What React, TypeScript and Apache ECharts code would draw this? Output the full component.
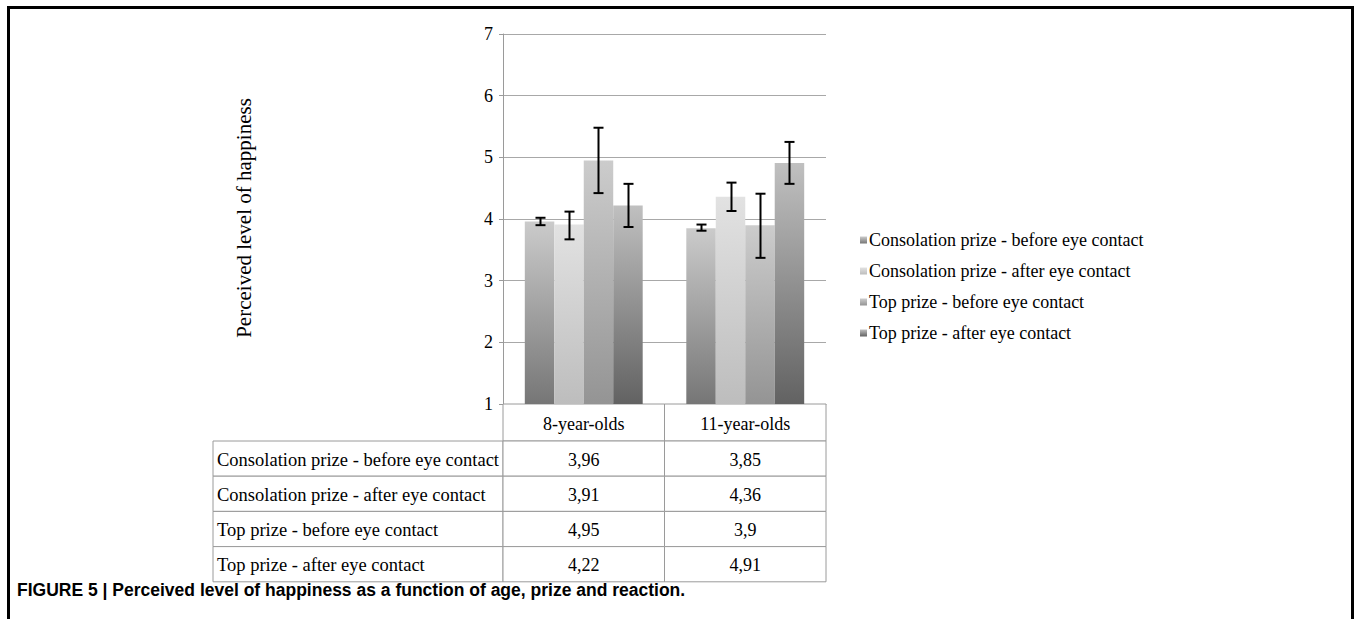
import React, { useEffect, useRef } from "react";
import * as echarts from "echarts";

const categories = ["8-year-olds", "11-year-olds"];
const seriesNames = [
  "Consolation prize - before eye contact",
  "Consolation prize - after eye contact",
  "Top prize - before eye contact",
  "Top prize - after eye contact",
];
const consolationBefore = [3.96, 3.85];
const consolationAfter = [3.91, 4.36];
const topBefore = [4.95, 3.9];
const topAfter = [4.22, 4.91];
const errLow = [
  [3.9, 3.81],
  [3.67, 4.13],
  [4.42, 3.37],
  [3.87, 4.57],
];
const errHigh = [
  [4.02, 3.91],
  [4.12, 4.59],
  [5.48, 4.41],
  [4.57, 5.25],
];
const yTicks = [1, 2, 3, 4, 5, 6, 7];

const values = [consolationBefore, consolationAfter, topBefore, topAfter];
const gradients = [
  ["#cbcbcb", "#767676"],
  ["#e2e2e2", "#bdbdbd"],
  ["#cccccc", "#949494"],
  ["#c0c0c0", "#626262"],
];

const SERIF = "Liberation Serif";
const GRID_L = 503;
const GRID_R = 826;
const GRID_T = 34;
const GRID_B = 404;
const TABLE_L = 213;
const HEADER_B = 441;
const ROW_H = 35.2;
const CAT_GAP = 0.27;

export default function App() {
  const ref = useRef<HTMLDivElement>(null);
  useEffect(() => {
    if (!ref.current) return;
    const chart = echarts.init(ref.current, null, { renderer: "svg" });

    const grad = (c: string[]) =>
      new echarts.graphic.LinearGradient(0, 0, 0, 1, [
        { offset: 0, color: c[0] },
        { offset: 1, color: c[1] },
      ]);

    const barSeries = values.map((v, i) => ({
      name: seriesNames[i],
      type: "bar",
      data: v,
      barGap: "0%",
      barCategoryGap: CAT_GAP * 100 + "%",
      itemStyle: { color: grad(gradients[i]) },
    }));

    const errData: number[][] = [];
    for (let s = 0; s < 4; s++) {
      for (let c = 0; c < categories.length; c++) {
        errData.push([c, errLow[s][c], errHigh[s][c], s]);
      }
    }

    const errSeries = {
      type: "custom",
      name: "err",
      data: errData,
      z: 10,
      renderItem: (params: any, api: any) => {
        const c = api.value(0);
        const lo = api.value(1);
        const hi = api.value(2);
        const s = api.value(3);
        const band = api.size([1, 0])[0];
        const groupW = band * (1 - CAT_GAP);
        const bw = groupW / 4;
        const pLo = api.coord([c, lo]);
        const pHi = api.coord([c, hi]);
        const x = Math.round(pLo[0] - groupW / 2 + bw * (s + 0.5)) + 0.5;
        const cap = 5;
        const st = { stroke: "#000", lineWidth: 2 };
        return {
          type: "group",
          children: [
            { type: "line", shape: { x1: x, y1: pLo[1], x2: x, y2: pHi[1] }, style: st },
            { type: "line", shape: { x1: x - cap, y1: pLo[1], x2: x + cap, y2: pLo[1] }, style: st },
            { type: "line", shape: { x1: x - cap, y1: pHi[1], x2: x + cap, y2: pHi[1] }, style: st },
          ],
        };
      },
    };

    const txt = (size: number) => ({ fontFamily: SERIF, fontSize: size, fill: "#000" });

    const colW = (GRID_R - GRID_L) / categories.length;
    const border = { stroke: "#9a9a9a", lineWidth: 1, fill: "#fff" };
    const g: any[] = [];
    g.push({
      type: "polyline",
      shape: { points: [[8.5, 619], [8.5, 7.5], [1352.5, 7.5], [1352.5, 619]] },
      style: { stroke: "#000", lineWidth: 3, fill: "none" },
    });
    categories.forEach((cat, ci) => {
      const x = GRID_L + ci * colW;
      g.push({ type: "rect", shape: { x, y: GRID_B, width: colW, height: HEADER_B - GRID_B }, style: border, z: 1 });
      g.push({
        type: "text",
        x: x + colW / 2,
        y: (GRID_B + HEADER_B) / 2 + 1,
        style: { text: cat, ...txt(18), align: "center", verticalAlign: "middle" },
        z: 2,
      });
    });
    seriesNames.forEach((nm, si) => {
      const y = HEADER_B + si * ROW_H;
      g.push({ type: "rect", shape: { x: TABLE_L, y, width: GRID_L - TABLE_L, height: ROW_H }, style: border, z: 1 });
      g.push({
        type: "text",
        x: TABLE_L + 4,
        y: y + ROW_H / 2 + 1,
        style: { text: nm, ...txt(18.5), align: "left", verticalAlign: "middle" },
        z: 2,
      });
      categories.forEach((_, ci) => {
        const x = GRID_L + ci * colW;
        g.push({ type: "rect", shape: { x, y, width: colW, height: ROW_H }, style: border, z: 1 });
        g.push({
          type: "text",
          x: x + colW / 2,
          y: y + ROW_H / 2 + 1,
          style: {
            text: String(values[si][ci]).replace(".", ","),
            ...txt(18),
            align: "center",
            verticalAlign: "middle",
          },
          z: 2,
        });
      });
    });
    g.push({
      type: "text",
      x: 244,
      y: 218,
      rotation: Math.PI / 2,
      style: {
        text: "Perceived level of happiness",
        ...txt(21),
        align: "center",
        verticalAlign: "middle",
      },
    });
    g.push({
      type: "text",
      x: 17,
      y: 590,
      style: {
        text: "FIGURE 5 | Perceived level of happiness as a function of age, prize and reaction.",
        fontFamily: "Liberation Sans",
        fontWeight: "bold",
        fontSize: 17.5,
        fill: "#000",
        align: "left",
        verticalAlign: "middle",
      },
    });

    chart.setOption({
      animation: false,
      backgroundColor: "#fff",
      grid: { left: GRID_L, right: 1357 - GRID_R, top: GRID_T, bottom: 619 - GRID_B, containLabel: false },
      legend: {
        orient: "vertical",
        left: 855,
        top: 226,
        icon: "rect",
        itemWidth: 7,
        itemHeight: 7,
        itemGap: 13,
        data: seriesNames,
        textStyle: { fontFamily: SERIF, fontSize: 18, color: "#000", padding: [0, 0, 0, -3] },
      },
      xAxis: {
        type: "category",
        data: categories,
        axisLabel: { show: false },
        axisTick: { show: false },
        axisLine: { lineStyle: { color: "#9a9a9a" } },
      },
      yAxis: {
        type: "value",
        min: yTicks[0],
        max: yTicks[yTicks.length - 1],
        interval: 1,
        axisLine: { show: true, lineStyle: { color: "#9a9a9a" } },
        axisTick: { show: true, length: 4, lineStyle: { color: "#9a9a9a" } },
        axisLabel: { fontFamily: SERIF, fontSize: 18, color: "#000", margin: 10 },
        splitLine: { lineStyle: { color: "#a8a8a8" } },
      },
      series: [...barSeries, errSeries],
      graphic: g,
    });
    return () => chart.dispose();
  }, []);
  return (
    <div
      ref={ref}
      style={{ position: "fixed", left: 0, top: 0, width: 1357, height: 619, background: "#fff" }}
    />
  );
}
